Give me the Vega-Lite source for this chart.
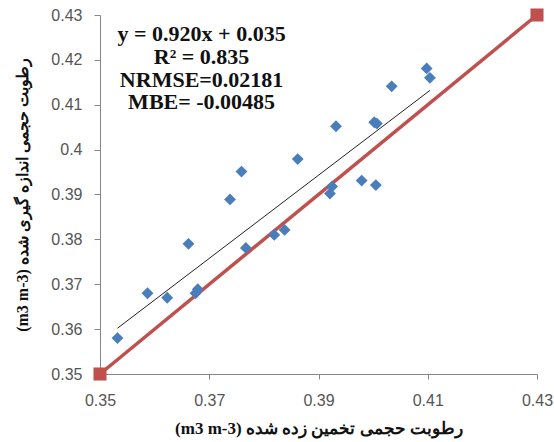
{
  "$schema": "https://vega.github.io/schema/vega-lite/v6.json",
  "autosize": "none",
  "width": 437,
  "height": 359,
  "padding": {"left": 100, "top": 15, "right": 17, "bottom": 68},
  "background": "white",
  "config": {"view": {"stroke": null}},
  "datasets": {
    "points": [
      {"est": 0.3532, "obs": 0.3580},
      {"est": 0.3587, "obs": 0.3680},
      {"est": 0.3623, "obs": 0.3670},
      {"est": 0.3662, "obs": 0.3790},
      {"est": 0.3675, "obs": 0.3680},
      {"est": 0.3679, "obs": 0.3689},
      {"est": 0.3738, "obs": 0.3889},
      {"est": 0.3759, "obs": 0.3951},
      {"est": 0.3767, "obs": 0.3781},
      {"est": 0.3819, "obs": 0.3810},
      {"est": 0.3838, "obs": 0.3821},
      {"est": 0.3862, "obs": 0.3979},
      {"est": 0.3921, "obs": 0.3902},
      {"est": 0.3925, "obs": 0.3918},
      {"est": 0.3932, "obs": 0.4052},
      {"est": 0.3979, "obs": 0.3931},
      {"est": 0.4005, "obs": 0.3921},
      {"est": 0.4002, "obs": 0.4061},
      {"est": 0.4007, "obs": 0.4058},
      {"est": 0.4034, "obs": 0.4141},
      {"est": 0.4098, "obs": 0.4181},
      {"est": 0.4104, "obs": 0.4160}
    ],
    "oneToOne": [
      {"est": 0.35, "obs": 0.35},
      {"est": 0.43, "obs": 0.43}
    ],
    "trend": [
      {"est": 0.3532, "obs": 0.3602},
      {"est": 0.4104, "obs": 0.4132}
    ]
  },
  "layer": [
    {
      "data": {"name": "oneToOne"},
      "mark": {"type": "line", "color": "#c0504d", "strokeWidth": 3.5, "clip": false},
      "encoding": {
        "x": {
          "field": "est", "type": "quantitative",
          "scale": {"domain": [0.35, 0.43], "nice": false, "zero": false},
          "axis": {
            "values": [0.35, 0.37, 0.39, 0.41, 0.43],
            "format": ".2~f",
            "grid": false,
            "labelFlush": false,
            "labelOverlap": false,
            "domainColor": "#868686",
            "tickColor": "#868686",
            "tickSize": 5,
            "labelPadding": 13,
            "labelFont": "Liberation Sans",
            "labelFontSize": 16,
            "labelColor": "#555555",
            "title": "(m3 m-3) رطوبت حجمی تخمین زده شده",
            "titleFont": "Liberation Serif",
            "titleFontSize": 17,
            "titleFontWeight": "bold",
            "titleColor": "#111111",
            "titlePadding": 12
          }
        },
        "y": {
          "field": "obs", "type": "quantitative",
          "scale": {"domain": [0.35, 0.43], "nice": false, "zero": false},
          "axis": {
            "values": [0.35, 0.36, 0.37, 0.38, 0.39, 0.40, 0.41, 0.42, 0.43],
            "format": ".2~f",
            "grid": false,
            "labelFlush": false,
            "labelOverlap": false,
            "domainColor": "#868686",
            "tickColor": "#868686",
            "tickSize": 6,
            "labelPadding": 12,
            "labelFont": "Liberation Sans",
            "labelFontSize": 16,
            "labelColor": "#555555",
            "title": "(m3 m-3) رطوبت حجمی اندازه گیری شده",
            "titleFont": "Liberation Serif",
            "titleFontSize": 16,
            "titleFontWeight": "bold",
            "titleColor": "#111111",
            "titlePadding": 20
          }
        }
      }
    },
    {
      "data": {"name": "trend"},
      "mark": {"type": "line", "color": "#222222", "strokeWidth": 1},
      "encoding": {
        "x": {"field": "est", "type": "quantitative"},
        "y": {"field": "obs", "type": "quantitative"}
      }
    },
    {
      "data": {"name": "points"},
      "mark": {"type": "point", "shape": "diamond", "filled": true, "size": 140, "color": "#4a7ebb", "opacity": 1},
      "encoding": {
        "x": {"field": "est", "type": "quantitative"},
        "y": {"field": "obs", "type": "quantitative"}
      }
    },
    {
      "data": {"name": "oneToOne"},
      "mark": {"type": "point", "shape": "square", "filled": true, "size": 170, "color": "#c0504d", "opacity": 1, "clip": false},
      "encoding": {
        "x": {"field": "est", "type": "quantitative"},
        "y": {"field": "obs", "type": "quantitative"}
      }
    },
    {
      "data": {"values": [{}]},
      "mark": {
        "type": "text",
        "text": ["y = 0.920x + 0.035", "R² = 0.835", "NRMSE=0.02181", "MBE= -0.00485"],
        "font": "Liberation Serif",
        "fontSize": 22,
        "fontWeight": "bold",
        "color": "#111111",
        "align": "center",
        "baseline": "alphabetic",
        "lineHeight": 22.8
      },
      "encoding": {
        "x": {"datum": 0.3686, "type": "quantitative"},
        "y": {"datum": 0.4242, "type": "quantitative"}
      }
    }
  ]
}
